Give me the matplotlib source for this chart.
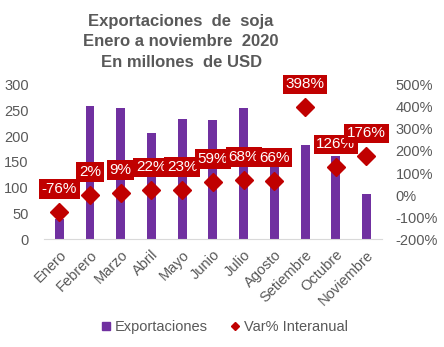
import matplotlib
matplotlib.use("Agg")
import matplotlib.pyplot as plt
from matplotlib.lines import Line2D

plt.rcParams['font.family'] = ['Liberation Sans', 'DejaVu Sans']

meses = ["Enero", "Febrero", "Marzo", "Abril", "Mayo", "Junio", "Julio",
         "Agosto", "Setiembre", "Octubre", "Noviembre"]
exportaciones = [39, 259, 255, 207, 234, 232, 255, 150, 182, 161, 87]
var_interanual = [-76, 2, 9, 22, 23, 59, 68, 66, 398, 126, 176]

morado = "#7030A0"
rojo = "#C00000"
gris = "#595959"

fig = plt.figure(figsize=(4.44, 3.47), dpi=100)
ax = fig.add_axes([0.099, 0.3104, 0.761, 0.4456])
ax2 = ax.twinx()

x = list(range(len(meses)))
ax.bar(x, exportaciones, width=0.29, color=morado, zorder=2)
ax.set_ylim(0, 300)
ax.set_yticks(range(0, 301, 50))
ax.set_xlim(-0.5, len(meses) - 0.5)
ax.set_xticks(x)
ax.set_xticklabels(meses, rotation=45, ha="right", rotation_mode="anchor")

ax2.plot(x, var_interanual, linestyle="none", marker="D", markersize=9.5,
         color=rojo, zorder=3)
ax2.set_ylim(-200, 500)
ax2.set_yticks(range(-200, 501, 100))
ax2.set_yticklabels([f"{v}%" for v in range(-200, 501, 100)])

for xi, v in zip(x, var_interanual):
    ax2.annotate(f"{v}%", (xi, v), xytext=(0, 16.5), textcoords="offset points",
                 ha="center", va="center", fontsize=11, color="white",
                 bbox=dict(boxstyle="square,pad=0.18", fc=rojo, ec="none"),
                 zorder=4)

for a in (ax, ax2):
    for s in ("top", "left", "right", "bottom"):
        a.spines[s].set_visible(False)
    a.tick_params(length=0, labelsize=10.5, colors=gris)
ax.spines["bottom"].set_visible(True)
ax.spines["bottom"].set_color("#D9D9D9")
ax.tick_params(axis="y", pad=11)
ax.tick_params(axis="x", pad=6)
ax2.tick_params(axis="y", pad=10)

fig.text(0.408, 0.879, "Exportaciones  de  soja\nEnero a noviembre  2020\nEn millones  de USD",
         ha="center", va="center", fontsize=12, fontweight="bold", color=gris,
         linespacing=1.45)

handles = [
    Line2D([], [], linestyle="none", marker="s", markersize=6, color=morado),
    Line2D([], [], linestyle="none", marker="D", markersize=4.5, color=rojo),
]
fig.legend(handles, ["Exportaciones", "Var% Interanual"], loc="center",
           bbox_to_anchor=(0.505, 0.057), ncol=2, frameon=False, fontsize=10.5,
           labelcolor=gris, handlelength=0.8, handletextpad=0.2,
           columnspacing=1.5)

fig.savefig("out.png", dpi=100)
